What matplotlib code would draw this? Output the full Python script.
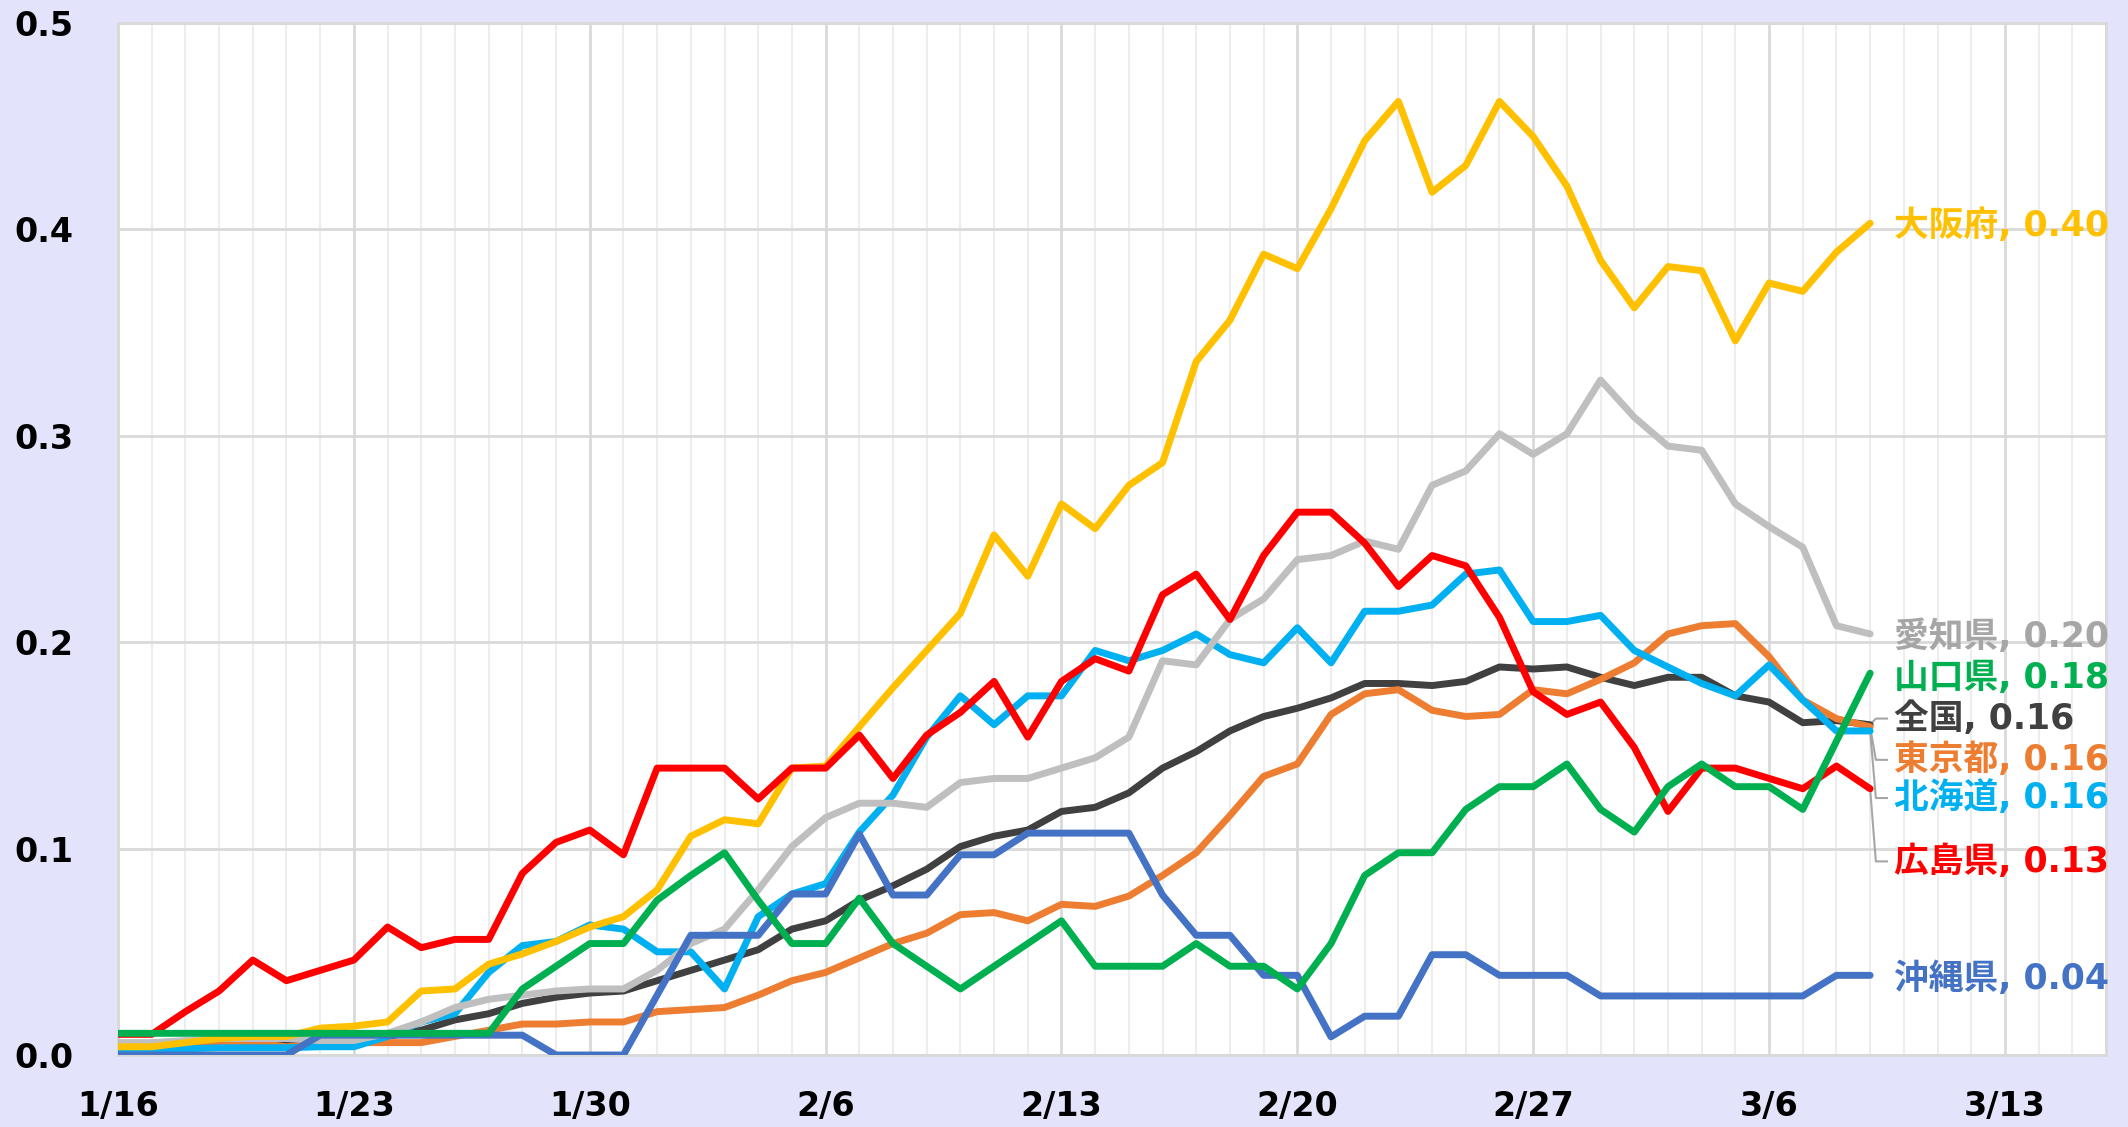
import numpy as np
import pandas as pd
import matplotlib
matplotlib.use("Agg")
import matplotlib.pyplot as plt

# daily values, 1/16 .. 3/9
dates = pd.date_range("2022-01-16", "2022-03-09", freq="D")

osaka = [0.004, 0.004, 0.006, 0.008, 0.009, 0.009, 0.013, 0.014, 0.016, 0.031, 0.032, 0.044, 0.049, 0.055, 0.062, 0.067, 0.080, 0.106,
         0.114, 0.112, 0.139, 0.140, 0.159, 0.178, 0.196, 0.214,
         0.252, 0.232, 0.267, 0.255, 0.276, 0.287, 0.336, 0.356, 0.388,
         0.381, 0.410, 0.443, 0.462, 0.418, 0.431, 0.462, 0.445, 0.421, 0.385, 0.362, 0.382, 0.380, 0.346, 0.374, 0.370, 0.389, 0.403]
hiroshima = [0.010, 0.010, 0.021, 0.031, 0.046, 0.036, 0.041, 0.046, 0.062, 0.052, 0.056, 0.056, 0.088, 0.103, 0.109, 0.097, 0.139, 0.139,
             0.139, 0.124, 0.139, 0.139, 0.155, 0.134, 0.155, 0.166,
             0.181, 0.154, 0.181, 0.192, 0.186, 0.223, 0.233, 0.211, 0.242,
             0.263, 0.263, 0.248, 0.227, 0.242, 0.237, 0.212, 0.176, 0.165, 0.171, 0.149, 0.118, 0.139, 0.139, 0.134, 0.129, 0.140, 0.129]
aichi = [0.006, 0.006, 0.007, 0.008, 0.008, 0.008, 0.007, 0.007, 0.0105, 0.016, 0.023, 0.027, 0.029, 0.031, 0.032, 0.032, 0.041, 0.054,
         0.061, 0.080, 0.101, 0.115, 0.122, 0.122, 0.120, 0.132,
         0.134, 0.134, 0.139, 0.144, 0.154, 0.191, 0.189, 0.211, 0.221,
         0.240, 0.242, 0.249, 0.245, 0.276, 0.283, 0.301, 0.291, 0.301, 0.327, 0.309, 0.295, 0.293, 0.267, 0.256, 0.246, 0.208, 0.204]
zenkoku = [0.005, 0.005, 0.006, 0.006, 0.007, 0.007, 0.007, 0.007, 0.009, 0.012, 0.017, 0.020, 0.025, 0.028, 0.030, 0.031, 0.036, 0.041,
           0.046, 0.051, 0.061, 0.065, 0.075, 0.082, 0.090, 0.101,
           0.106, 0.109, 0.118, 0.120, 0.127, 0.139, 0.147, 0.157, 0.164,
           0.168, 0.173, 0.180, 0.180, 0.179, 0.181, 0.188, 0.187, 0.188, 0.183, 0.179, 0.183, 0.183, 0.174, 0.171, 0.161, 0.162, 0.160]
tokyo = [0.003, 0.003, 0.004, 0.006, 0.006, 0.004, 0.005, 0.006, 0.006, 0.006, 0.009, 0.012, 0.015, 0.015, 0.016, 0.016, 0.021, 0.022,
         0.023, 0.029, 0.036, 0.040, 0.047, 0.054, 0.059, 0.068,
         0.069, 0.065, 0.073, 0.072, 0.077, 0.087, 0.098, 0.116, 0.135,
         0.141, 0.165, 0.175, 0.177, 0.167, 0.164, 0.165, 0.177, 0.175, 0.182, 0.190, 0.204, 0.208, 0.209, 0.193, 0.172, 0.163, 0.159]
hokkaido = [0.001, 0.001, 0.003, 0.0035, 0.0035, 0.0035, 0.004, 0.004, 0.009, 0.016, 0.020, 0.040, 0.053, 0.055, 0.063, 0.061, 0.050, 0.050,
            0.032, 0.067, 0.078, 0.083, 0.108, 0.126, 0.154, 0.174,
            0.160, 0.174, 0.174, 0.196, 0.191, 0.196, 0.204, 0.194, 0.190,
            0.207, 0.190, 0.215, 0.215, 0.218, 0.233, 0.235, 0.210, 0.210, 0.213, 0.196, 0.188, 0.180, 0.174, 0.189, 0.172, 0.157, 0.157]
yamaguchi = [0.0105, 0.0105, 0.0105, 0.0105, 0.0105, 0.0105, 0.0105, 0.0105, 0.0105, 0.0105, 0.0105, 0.0105, 0.032, 0.043, 0.054, 0.054, 0.075, 0.087,
             0.098, 0.075, 0.054, 0.054, 0.076, 0.054, 0.043, 0.032,
             0.043, 0.054, 0.065, 0.043, 0.043, 0.043, 0.054, 0.043, 0.043,
             0.032, 0.054, 0.087, 0.098, 0.098, 0.119, 0.130, 0.130, 0.141, 0.119, 0.108, 0.130, 0.141, 0.130, 0.130, 0.119, 0.152, 0.185]
okinawa = [0, 0, 0, 0, 0, 0, 0.0096, 0.0096, 0.0096, 0.0096, 0.0096, 0.0096, 0.0096, 0, 0, 0, 0.029, 0.058,
           0.058, 0.058, 0.078, 0.078, 0.107, 0.0775, 0.0775, 0.097,
           0.097, 0.1075, 0.1075, 0.1075, 0.1075, 0.0775, 0.058, 0.058, 0.0386,
           0.0386, 0.0088, 0.0188, 0.0188, 0.0486, 0.0486, 0.0386, 0.0386, 0.0386, 0.0286, 0.0286, 0.0286, 0.0286, 0.0286, 0.0286, 0.0286, 0.0386, 0.0386]

names = ["全国", "東京都", "北海道", "愛知県", "沖縄県", "大阪府", "広島県", "山口県"]
series = [zenkoku, tokyo, hokkaido, aichi, okinawa, osaka, hiroshima, yamaguchi]
colors = ["#404040", "#ED7D31", "#00B0F0", "#BFBFBF", "#4472C4", "#FFC000", "#FF0000", "#00B050"]
label_colors = ["#404040", "#ED7D31", "#00B0F0", "#A6A6A6", "#4472C4", "#FFC000", "#FF0000", "#00B050"]
# label placement (y in data units) and leader lines
label_y = [0.163, 0.143, 0.1245, 0.2025, 0.0368, 0.4017, 0.0938, 0.1825]
leader = [True, True, True, False, False, False, True, False]

week_ticks = pd.date_range("2022-01-16", "2022-03-13", freq="7D")
yticks = np.arange(0, 0.51, 0.1)

bg = "#E3E3FB"
fig = plt.figure(figsize=(21.28, 11.27), dpi=100, facecolor=bg)
ax = fig.add_axes([118 / 2128, 1 - 1055 / 1127, (2106 - 118) / 2128, (1055 - 23) / 1127])
ax.set_facecolor("white")

ax.set_xlim(pd.Timestamp("2022-01-16"), pd.Timestamp("2022-03-16"))
ax.set_ylim(0, 0.5)

ax.set_xticks(week_ticks)
ax.set_xticklabels([f"{d.month}/{d.day}" for d in week_ticks])
ax.set_xticks(pd.date_range("2022-01-16", "2022-03-16", freq="D"), minor=True)
ax.set_yticks(yticks)
ax.set_yticklabels([f"{v:.1f}" for v in yticks])

ax.grid(which="minor", axis="x", color="#EDEDED", lw=1.5, zorder=0)
ax.grid(which="major", axis="both", color="#D9D9D9", lw=2, zorder=0)
ax.set_axisbelow(True)
ax.tick_params(which="both", length=0)
ax.tick_params(axis="x", pad=25, labelsize=24)
ax.tick_params(axis="y", pad=32, labelsize=24)
for lab in ax.get_xticklabels() + ax.get_yticklabels():
    lab.set_fontweight("bold")
    lab.set_family("DejaVu Sans")
for s in ax.spines.values():
    s.set_color("#D9D9D9")
    s.set_linewidth(2)

for name, vals, c in zip(names, series, colors):
    ax.plot(dates, vals, color=c, lw=5, solid_joinstyle="round", solid_capstyle="round", zorder=3)

last = dates[-1]
day = pd.Timedelta(days=1)
for name, vals, lc, ly, ld in zip(names, series, label_colors, label_y, leader):
    v = vals[-1]
    ax.text(last + 0.72 * day, ly, f"{name}, {v:.2f}", color=lc, fontsize=25,
            fontweight="bold", family=["DejaVu Sans", "Noto Sans CJK JP"],
            va="center", ha="left", zorder=4)
    if ld:
        ax.plot([last, last + 0.17 * day, last + 0.5 * day], [v, ly, ly],
                color="#A6A6A6", lw=1.5, zorder=2)

fig.savefig("out.png", dpi=100, facecolor=bg)
